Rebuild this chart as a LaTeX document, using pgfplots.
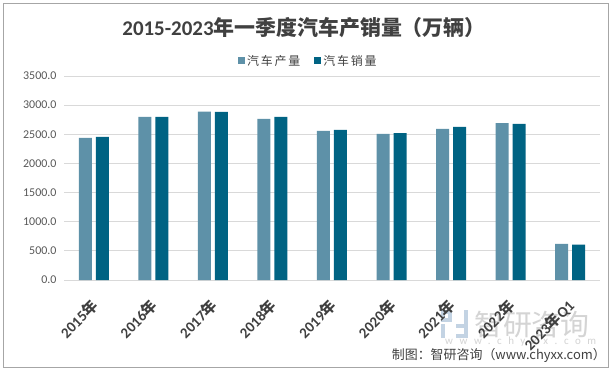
\documentclass[border=0pt]{standalone}
\usepackage{fontspec}
\usepackage{pgfplots}
\pgfplotsset{compat=1.18}
\setmainfont{Carlito}
\newfontfamily\cjk{Noto Sans CJK SC}
\newfontfamily\cjkwide[LetterSpace=15]{Noto Sans CJK SC}
\newfontfamily\wmfont[LetterSpace=60]{Carlito}
\definecolor{prodc}{HTML}{5E91A8}
\definecolor{salec}{HTML}{006383}
\definecolor{gridc}{HTML}{D9D9D9}
\definecolor{framec}{HTML}{A6A6A6}
\definecolor{tickc}{HTML}{595959}
\definecolor{titlec}{HTML}{404040}
\definecolor{wmc}{HTML}{D4D4D4}
\definecolor{wmlogo}{HTML}{C3D3E3}
\pgfplotstableread{
x prod sale
0 2440 2456
1 2798 2798
2 2888 2886
3 2766 2800
4 2557 2575
5 2505 2522
6 2591 2627
7 2693 2680
8 621 607
}\datatable
\begin{document}
\begin{tikzpicture}
\useasboundingbox (0bp,0bp) rectangle (612bp,372bp);
\fill[white] (0bp,0bp) rectangle (612bp,372bp);
\draw[framec,line width=0.8bp] (3bp,5bp) rectangle (608.5bp,369bp);
% watermark
\fill[wmlogo] (441bp,58bp) rectangle (452bp,62bp);
\fill[wmlogo] (441bp,50bp) rectangle (445bp,62bp);
\fill[wmlogo] (441bp,50bp) rectangle (452bp,54bp);
\fill[wmlogo] (448bp,50bp) rectangle (452bp,58bp);
\fill[wmlogo] (441bp,34bp) rectangle (445bp,48bp);
\fill[wmlogo] (456bp,34bp) rectangle (468bp,38bp);
\fill[wmlogo] (464bp,34bp) rectangle (468bp,62bp);
\fill[wmlogo] (456bp,44bp) rectangle (468bp,48bp);
\node[wmc,anchor=west,inner sep=0,font=\cjk\fontsize{29}{30}\selectfont] at (474bp,47bp) {智研咨询};
\node[wmc,anchor=west,inner sep=0,font=\wmfont\fontsize{11}{12}\selectfont] at (445bp,30bp) {www.chyxx.com};
\node[titlec,font=\fontsize{21}{24}\selectfont] at (304bp,344bp) {{\bfseries 2015-2023}{\cjk\bfseries 年一季度汽车产销量（万辆）}};
\begin{axis}[
  at={(64bp,92bp)}, anchor=south west,
  width=536bp, height=204bp, scale only axis,
  ymin=0, ymax=3500, ytick={0,500,...,3500},
  xmin=-0.5, xmax=8.5, xtick={0,...,8},
  xticklabels={{\bfseries 2015{\cjk\bfseries 年}},{\bfseries 2016{\cjk\bfseries 年}},{\bfseries 2017{\cjk\bfseries 年}},{\bfseries 2018{\cjk\bfseries 年}},{\bfseries 2019{\cjk\bfseries 年}},{\bfseries 2020{\cjk\bfseries 年}},{\bfseries 2021{\cjk\bfseries 年}},{\bfseries 2022{\cjk\bfseries 年}},{\bfseries 2023{\cjk\bfseries 年}Q1}},
  ybar=4bp, bar width=13bp,
  axis y line*=left, y axis line style={draw=none},
  axis x line*=bottom, x axis line style={draw=gridc,line width=0.8bp},
  major tick length=0pt,
  ymajorgrids, grid style={draw=gridc,line width=0.8bp},
  yticklabel style={/pgf/number format/fixed,/pgf/number format/fixed zerofill,/pgf/number format/precision=1,/pgf/number format/1000 sep={},/pgf/number format/assume math mode=true,font=\fontsize{12}{14}\selectfont,text=tickc,xshift=-4bp},
  xticklabel style={rotate=45,anchor=east,font=\fontsize{15}{17}\selectfont,text=titlec,yshift=-17bp,xshift=-12bp},
  legend style={draw=none,fill=none,at={(rel axis cs:0.456,1)},anchor=center,yshift=15bp,font=\cjkwide\fontsize{12}{14}\selectfont,text=titlec,inner sep=0pt,/tikz/every even column/.append style={column sep=12bp}},
  legend columns=2,
  legend image code/.code={\fill[#1] (0bp,-3.5bp) rectangle (7bp,3.5bp);},
  clip=false,
]
\addplot[fill=prodc,draw=none] table[x=x,y=prod]{\datatable};
\addplot[fill=salec,draw=none] table[x=x,y=sale]{\datatable};
\legend{汽车产量,汽车销量}
\end{axis}
\node[titlec,anchor=east,inner sep=0,font=\cjk\fontsize{13}{15}\selectfont] at (606bp,17bp) {制图：智研咨询（www.chyxx.com）};
\end{tikzpicture}
\end{document}
